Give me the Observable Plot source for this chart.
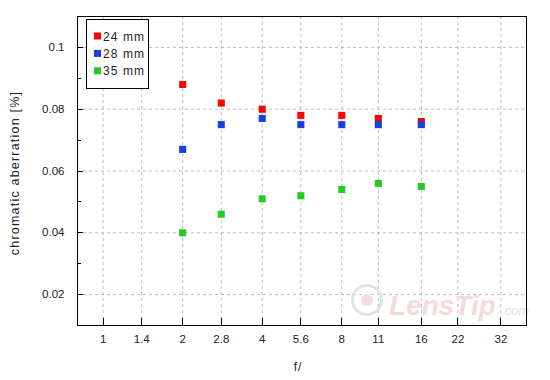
<!DOCTYPE html>
<html>
<head>
<meta charset="utf-8">
<script src="https://cdn.jsdelivr.net/npm/d3@7"></script>
<script src="https://cdn.jsdelivr.net/npm/@observablehq/plot@0.6"></script>
<style>
  html, body { margin: 0; padding: 0; background: #fff; }
  #chart { width: 550px; height: 380px; }
</style>
</head>
<body>
<div id="chart"></div>
<script>
// ---- data ----
const fStops = [2, 2.8, 4, 5.6, 8, 11, 16];
const series = ["24 mm", "28 mm", "35 mm"];
const colors = ["#ff0000", "#1a3fe0", "#22cc22"];
const ca24 = [0.088, 0.082, 0.080, 0.078, 0.078, 0.077, 0.076];
const ca28 = [0.067, 0.075, 0.077, 0.075, 0.075, 0.075, 0.075];
const ca35 = [0.040, 0.046, 0.051, 0.052, 0.054, 0.056, 0.055];
const xTicks = [1, 1.4, 2, 2.8, 4, 5.6, 8, 11, 16, 22, 32];
const xTickLabels = ["1", "1.4", "2", "2.8", "4", "5.6", "8", "11", "16", "22", "32"];
const yTicks = [0.02, 0.04, 0.06, 0.08, 0.1];
const yTickLabels = ["0.02", "0.04", "0.06", "0.08", "0.1"];
const yMinorTicks = [0.03, 0.05, 0.07, 0.09];

const rows = [];
[ca24, ca28, ca35].forEach((vals, s) => {
  vals.forEach((v, i) => rows.push({series: series[s], f: fStops[i], ca: v}));
});
const yLab = new Map(yTicks.map((t, i) => [t, yTickLabels[i]]));

const font = "'Liberation Sans', Arial, sans-serif";

function inwardTicks(index, scales, values, dims) {
  const {x, y} = scales;
  const g = d3.create("svg:g").attr("stroke", "#000").attr("stroke-width", 1).attr("shape-rendering", "crispEdges");
  const yb = dims.height - dims.marginBottom;
  const xl = dims.marginLeft;
  for (const t of xTicks) {
    const px = Math.round(x(t)) + 0.5;
    g.append("line").attr("x1", px).attr("x2", px).attr("y1", yb).attr("y2", yb - 7);
  }
  for (const t of yTicks) {
    const py = Math.round(y(t)) + 0.5;
    g.append("line").attr("x1", xl).attr("x2", xl + 6).attr("y1", py).attr("y2", py);
  }
  for (const t of yMinorTicks) {
    const py = Math.round(y(t)) + 0.5;
    g.append("line").attr("x1", xl).attr("x2", xl + 4).attr("y1", py).attr("y2", py);
  }
  return g.node();
}

function watermark(index, scales, values, dims) {
  const g = d3.create("svg:g").attr("pointer-events", "none").attr("text-anchor", "start");
  g.append("circle").attr("cx", 367).attr("cy", 300).attr("r", 14.5)
    .attr("fill", "none").attr("stroke", "#e2e2e2").attr("stroke-width", 3);
  g.append("circle").attr("cx", 367).attr("cy", 300).attr("r", 6)
    .attr("fill", "#f3dede");
  g.append("text").attr("x", 389).attr("y", 315)
    .attr("font-family", font).attr("font-weight", "bold").attr("font-style", "italic")
    .attr("font-size", 28).attr("fill", "#f5dada")
    .text("LensTip");
  g.append("text").attr("x", 501).attr("y", 315)
    .attr("font-family", font).attr("font-style", "italic")
    .attr("font-size", 13).attr("fill", "#e4e4e4")
    .text(".com");
  return g.node();
}

const chart = Plot.plot({
  width: 550,
  height: 380,
  marginLeft: 77,
  marginRight: 24,
  marginTop: 16,
  marginBottom: 55,
  style: {fontFamily: font, fontSize: "11px", background: "#fff", color: "#222", overflow: "visible"},
  x: {type: "log", domain: [0.8, 40], axis: null},
  y: {domain: [0.01, 0.11]},
  color: {domain: series, range: colors},
  marks: [
    Plot.gridX(xTicks, {stroke: "#bbbbbb", strokeOpacity: 1, strokeDasharray: "3,3"}),
    Plot.gridY(yTicks, {stroke: "#bbbbbb", strokeOpacity: 1, strokeDasharray: "3,3"}),
    watermark,
    Plot.text(xTicks, {x: d => d, frameAnchor: "bottom", dy: 17, text: (d, i) => xTickLabels[i], fontSize: 11.5, fill: "#222", style: "letter-spacing:0.8px"}),
    Plot.axisY(yTicks, {tickSize: 0, tickPadding: 13, tickFormat: d => yLab.get(d), label: null, fontSize: 11.5, style: "letter-spacing:0.8px"}),
    Plot.dot(rows, {x: "f", y: "ca", fill: "series", symbol: "square", r: 4, stroke: null}),
    inwardTicks,
    Plot.frame({stroke: "#000", strokeWidth: 1})
  ]
});

const svg = d3.select(chart);
// axis titles
svg.append("text").attr("x", 298).attr("y", 371).attr("text-anchor", "middle")
  .attr("font-family", font).attr("font-size", 12).attr("fill", "#222")
  .style("letter-spacing", "1px").text("f/");
svg.append("text").attr("transform", "translate(19,173) rotate(-90)").attr("text-anchor", "middle")
  .attr("font-family", font).attr("font-size", 12.5).attr("fill", "#222")
  .style("letter-spacing", "1.2px").text("chromatic aberration [%]");

// legend
const lg = svg.append("g").attr("text-anchor", "start");
lg.append("rect").attr("x", 86.5).attr("y", 19.5).attr("width", 62).attr("height", 69)
  .attr("fill", "#fff").attr("stroke", "#000").attr("stroke-width", 1);
series.forEach((s, i) => {
  const cy = 36 + i * 17.4;
  lg.append("rect").attr("x", 94).attr("y", cy - 3.5).attr("width", 7).attr("height", 7).attr("fill", colors[i]);
  lg.append("text").attr("x", 103).attr("y", cy + 4.5)
    .attr("font-family", font).attr("font-size", 12).attr("fill", "#222")
    .style("letter-spacing", "1.1px").text(s);
});

document.getElementById("chart").appendChild(chart);
</script>
</body>
</html>
